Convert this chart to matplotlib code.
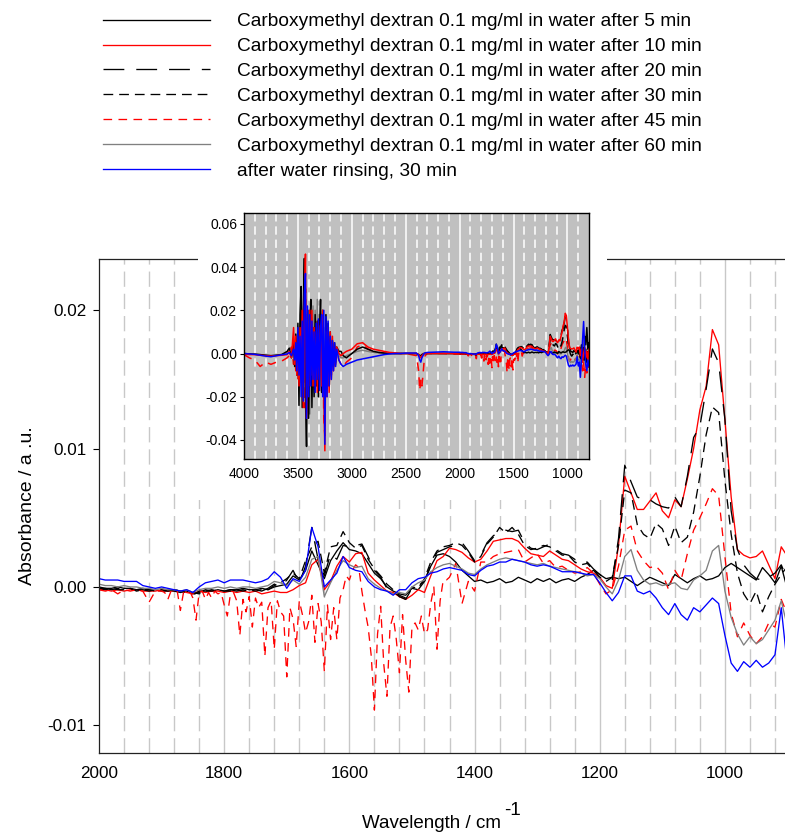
import numpy as np
import matplotlib
matplotlib.use("Agg")
import matplotlib.pyplot as plt
from matplotlib.patches import Rectangle
from matplotlib.ticker import FormatStrFormatter

plt.rcParams['font.family'] = ['Liberation Sans', 'DejaVu Sans']
plt.rcParams['axes.unicode_minus'] = False
plt.rcParams['lines.scale_dashes'] = False

labels = [
    "Carboxymethyl dextran 0.1 mg/ml in water after 5 min",
    "Carboxymethyl dextran 0.1 mg/ml in water after 10 min",
    "Carboxymethyl dextran 0.1 mg/ml in water after 20 min",
    "Carboxymethyl dextran 0.1 mg/ml in water after 30 min",
    "Carboxymethyl dextran 0.1 mg/ml in water after 45 min",
    "Carboxymethyl dextran 0.1 mg/ml in water after 60 min",
    "after water rinsing, 30 min",
]

# wavenumber sampling grid (cm-1), 2000 -> 800
WN = list(range(2000, 790, -10))
# finer grid for the 45 min trace
WN45 = list(range(2000, 1900, -10)) + list(range(1900, 1440, -5)) + list(range(1440, 790, -10))
# high-wavenumber grid for the inset (4000 -> 2050)
HI_WN = ([4000, 3950, 3900, 3850, 3800, 3750, 3700, 3650, 3600, 3580, 3560, 3540]
         + list(range(3530, 3130, -10))
         + [3120, 3100, 3080, 3050, 3000, 2950, 2900, 2850, 2800, 2750, 2700, 2650,
            2600, 2550, 2500, 2450, 2400, 2380, 2370, 2360, 2350, 2340, 2330, 2320,
            2300, 2250, 2200, 2150, 2100, 2050])

# absorbance values in units of 1e-3 (mAbs)
min5 = [0.0, -0.1, -0.1, 0.0, -0.1, -0.1, -0.2, -0.1, -0.2, -0.2,
        -0.3, -0.3, -0.2, -0.3, -0.3, -0.5, -0.4, -0.2, -0.3, -0.2,
        -0.3, -0.2, -0.2, -0.1, -0.2, -0.2, -0.1, -0.2, 0.0, 0.1,
        0.2, 0.8, 0.5, 1.2, 2.6, 1.6, 0.6, 1.9, 2.6, 3.2,
        2.7, 2.6, 2.4, 1.7, 1.0, 0.6, 0.0, -0.3, -0.5, -0.6,
        -0.1, -0.2, 0.4, 1.5, 2.3, 2.4, 2.2, 1.8, 1.2, 0.8,
        0.4, 0.5, 0.3, 0.4, 0.6, 0.3, 0.4, 0.7, 0.5, 0.3,
        0.6, 0.4, 0.6, 0.3, 0.5, 0.6, 0.4, 0.7, 0.9, 1.2,
        0.9, 0.6, 0.7, 0.6, 0.7, 0.4, 0.1, 0.4, 0.7, 0.5,
        0.3, 0.1, 0.9, 0.6, 0.3, 0.6, 0.8, 0.5, 0.6, 0.8,
        1.4, 1.7, 1.4, 1.1, 0.8, 0.5, 1.4, 0.9, 0.3, 1.5,
        -0.2, 2.0, -2.0, 4.0, 1.0, -3.0, 8.0, 4.0, 12.0, 2.0,
        5.0]
min10 = [-0.2, -0.2, -0.3, -0.2, -0.3, -0.2, -0.2, -0.3, -0.3, -0.3,
         -0.2, -0.3, -0.3, -0.3, -0.4, -0.5, -0.3, -0.4, -0.3, -0.3,
         -0.4, -0.3, -0.4, -0.3, -0.4, -0.3, -0.5, -0.4, -0.3, -0.4,
         -0.4, -0.2, 0.1, 0.3, 1.6, 2.0, -0.2, 0.4, 1.5, 2.2,
         1.8, 2.4, 2.5, 1.0, 0.5, 0.1, -0.3, -0.4, -0.7, -0.9,
         -0.6, -0.2, -0.4, 0.8, 1.9, 2.2, 2.8, 2.7, 2.5, 2.1,
         1.8, 2.0, 2.6, 3.3, 3.4, 3.5, 3.5, 3.3, 2.8, 2.4,
         2.3, 2.2, 2.6, 2.3, 2.0, 1.9, 1.6, 1.3, 1.1, 1.0,
         0.7, 0.1, -0.1, 3.0, 8.0, 6.8, 5.6, 5.6, 6.2, 6.8,
         5.5, 5.0, 6.3, 5.8, 7.8, 10.0, 12.8, 14.5, 18.6, 17.5,
         12.1, 6.5, 2.7, 2.3, 2.1, 2.2, 2.6, 1.6, 0.6, 2.9,
         2.2, 3.0, -1.0, 2.0, -4.0, 0.0, 3.0, -2.0, 1.0, -3.0,
         2.0]
min20 = [-0.1, -0.1, -0.2, -0.1, -0.2, -0.2, -0.2, -0.2, -0.3, -0.2,
         -0.3, -0.2, -0.3, -0.4, -0.3, -0.6, -0.3, -0.3, -0.2, -0.3,
         -0.3, -0.2, -0.3, -0.2, -0.3, -0.2, -0.3, -0.1, 0.2, 0.0,
         0.5, 1.2, 0.3, 1.5, 4.3, 2.0, 0.8, 2.4, 2.0, 3.0,
         2.9, 3.0, 3.1, 2.2, 1.2, 0.7, -0.1, -0.3, -0.7, -0.9,
         -0.1, 0.1, 0.4, 1.6, 2.5, 2.7, 2.9, 3.0, 3.2, 2.6,
         1.9, 2.3, 3.2, 3.7, 4.0, 4.1, 4.0, 4.1, 3.2, 2.8,
         2.7, 2.9, 3.1, 2.7, 2.4, 2.3, 2.0, 1.7, 1.8, 1.3,
         0.9, 0.6, 0.5, 3.5, 8.8, 7.6, 6.5, 6.3, 6.3, 6.0,
         5.8, 5.7, 6.5, 5.8, 8.0, 10.8, 11.6, 14.3, 17.2, 16.2,
         12.1, 5.5, 2.7, 1.6, 1.0, 0.6, 0.5, 0.7, 1.0, 1.6,
         0.5, 1.0, -2.0, 3.0, -1.0, 2.0, -3.0, 1.0, 4.0, -2.0,
         1.0]
min30 = [-0.1, -0.2, -0.1, -0.2, -0.2, -0.1, -0.3, -0.2, -0.2, -0.3,
         -0.2, -0.3, -0.2, -0.3, -0.4, -0.4, -0.5, -0.3, -0.3, -0.2,
         -0.3, -0.3, -0.2, -0.3, -0.2, -0.3, -0.2, -0.2, 0.1, 0.3,
         0.6, 1.0, 0.6, 1.9, 2.9, 3.3, 1.0, 2.9, 3.0, 4.0,
         3.2, 2.8, 3.0, 2.0, 1.3, 0.8, 0.2, -0.2, -0.6, -0.8,
         0.0, -0.1, 0.6, 1.8, 2.6, 2.9, 3.0, 3.2, 3.0, 2.5,
         1.8, 2.2, 3.1, 3.6, 4.3, 3.9, 4.3, 3.8, 3.0, 2.7,
         2.8, 3.0, 2.9, 2.6, 2.3, 2.3, 1.8, 1.6, 1.7, 1.2,
         0.7, 0.4, 0.7, 3.0, 7.0, 6.8, 4.5, 3.8, 3.5, 4.6,
         4.2, 3.0, 4.4, 3.2, 3.6, 5.4, 8.0, 11.0, 13.0, 12.6,
         7.7, 3.8, 1.0, -0.5, -1.2, -0.3, -1.8, -0.7, 0.2, 0.9,
         1.5, 0.5, -3.0, 1.0, -2.0, 3.0, -1.0, 2.0, -4.0, 1.0,
         -2.0]
min45 = [-0.2, -0.3, -0.2, -0.5, -0.2, -0.3, -0.2, -0.3, -1.1, -0.3,
         # 1900 -> 1445, step 5
         -0.3, -0.4, -0.9, -0.3, -0.4, -0.3, -1.7, -0.4, -0.5, -0.3,
         -0.8, -2.4, -0.4, -0.3, -0.9, -0.4, -0.8, -0.3, -0.5, -0.4,
         -1.3, -2.1, -0.5, -0.4, -1.0, -3.5, -0.9, -1.8, -0.7, -2.9,
         -0.8, -1.5, -1.1, -5.0, -1.5, -1.0, -4.5, -1.0, -1.8, -2.1,
         -6.5, -1.5, -2.3, -4.3, -1.0, -2.0, -3.3, -2.5, -0.6, -4.0,
         -1.2, -2.5, -6.1, -1.3, -3.8, -1.5, -3.8, -0.8, -0.2, 0.8,
         0.5, 1.2, 1.6, 1.4, -0.3, -1.7, -2.9, -5.0, -8.9, -3.4,
         -1.4, -5.6, -7.9, -2.9, -2.1, -3.8, -6.2, -2.0, -5.3, -7.6,
         -2.9, -2.6, -3.1, -2.1, -3.4, -3.1, -1.2, 0.0, -4.5, -1.0,
         0.5, 0.5,
         # 1440 -> 800, step 10
         0.7, 1.7, -1.2, 0.4, -0.3, 1.8, 1.8, 2.2, 2.4, 2.5,
         2.6, 2.7, 1.8, 2.1, 2.4, 1.7, 1.9, 1.4, 1.5, 1.2,
         1.0, 1.1, 1.4, 1.0, 0.2, -0.5, -0.2, 1.5, 4.1, 4.4,
         2.6, 1.9, 1.4, 1.5, 1.0, -0.2, 1.2, 0.5, 2.4, 4.1,
         5.0, 6.0, 7.1, 6.6, 2.2, -1.9, -3.6, -2.6, -3.5, -4.1,
         -3.6, -2.6, -2.9, -0.9, -2.0, -2.0, -6.0, -3.0, -8.0, -4.0,
         -11.0, -5.0, -9.0, -4.0, -7.0]
min60 = [0.2, 0.1, 0.1, 0.0, 0.1, 0.0, 0.0, -0.1, -0.1, -0.2,
         -0.1, -0.2, -0.2, -0.3, -0.2, -0.4, -0.2, -0.1, -0.1, 0.0,
         -0.1, 0.0, -0.1, 0.0, 0.0, -0.1, 0.0, 0.1, 0.4, 0.3,
         0.1, 0.5, 0.2, 0.7, 2.0, 2.2, -0.7, 0.3, 1.2, 1.9,
         1.6, 1.4, 1.5, 0.6, 0.2, -0.1, -0.3, -0.5, -0.4, -0.5,
         0.0, 0.3, 0.5, 1.1, 1.4, 1.6, 1.7, 1.5, 1.3, 1.0,
         0.9, 1.3, 1.6, 1.8, 2.0, 2.1, 2.0, 1.9, 1.8, 1.7,
         1.6, 1.7, 1.5, 1.4, 1.3, 1.2, 1.1, 1.0, 0.8, 0.9,
         0.6, 0.0, -0.5, 0.5, 2.2, 2.7, 1.2, 0.5, 0.2, 0.3,
         0.1, 0.2, 0.3, -0.1, -0.2, 0.5, 0.8, 1.2, 2.6, 3.0,
         -0.3, -2.2, -3.4, -4.2, -3.6, -4.1, -3.8, -3.1, -2.4, -1.0,
         -2.9, -3.0, -5.0, -2.0, -4.0, 1.0, -3.0, -6.0, -2.0, -4.0,
         -1.0]
rinse = [0.6, 0.5, 0.5, 0.5, 0.4, 0.4, 0.4, 0.1, 0.0, -0.1,
         0.0, -0.1, -0.2, -0.3, -0.2, -0.4, 0.0, 0.3, 0.4, 0.5,
         0.3, 0.5, 0.5, 0.5, 0.4, 0.3, 0.4, 0.6, 1.1, 0.7,
         -0.1, 0.6, 0.4, 1.2, 4.3, 2.9, 0.0, 0.5, 1.0, 2.2,
         1.4, 1.2, 1.1, 0.4, 0.0, -0.2, -0.3, -0.6, -0.2, -0.2,
         0.3, 0.6, 0.7, 1.0, 1.1, 1.3, 1.4, 1.3, 1.2, 0.9,
         0.8, 1.2, 1.5, 1.6, 1.8, 1.8, 2.0, 1.9, 1.8, 1.6,
         1.5, 1.6, 1.5, 1.3, 1.1, 1.1, 1.1, 1.0, 0.9, 0.9,
         0.3, -0.4, -1.0, -0.4, 0.8, 0.8, -0.3, -0.5, -0.3, -0.8,
         -1.5, -2.0, -1.2, -2.0, -2.4, -1.5, -1.8, -1.3, -0.8, -1.2,
         -3.5, -5.5, -6.1, -5.4, -5.8, -5.3, -5.8, -5.5, -4.9, -1.5,
         -5.8, -4.0, -11.0, -3.0, 6.0, 14.8, 2.0, -5.0, -8.0, -3.0,
         -6.0]

# high-wavenumber parts (inset only), mAbs
min5_hi = [0.0, -0.2, -0.3, -0.5, -0.8, -1.0, -0.8, -0.5, 1.0, 2.5, -2.0, 5.0,
           -6, 9, -10, 14, -24, 18, 31, -25, 20, 44,
           -20, -43, 20, -30, 15, 25, -25, 12, -20, 18,
           -15, 15, -20, 10, 25, -18, 20, -15, -23, 18,
           -12, 14, -15, 10, -8, 6, -6, 5, -4, 3,
           1, 1, -1, -2, 0, 2, 3, 2, 1, 0.5, 0.2, 0, 0, 0, 0, 0, 0,
           -0.5, -1, -1, -0.5, -0.3, 0, 0, 0, 0, 0, 0, 0, 0]
min10_hi = [-0.3, -0.5, -0.5, -0.8, -1.0, -1.2, -1.0, -0.8, -0.5, 1.0, -2.0, 12.0,
            -5, 8, -10, 6, -15, 12, -12, 20, -25, 20,
            46, -30, 15, -15, 20, -10, 20, -15, 12, -15,
            10, -18, 15, -12, 13, -15, 20, -20, -45, 10,
            -20, 12, -18, 10, -12, 8, -8, 4, -5, 3,
            0, -1, 0, 1, 2, 4.5, 5, 3, 2, 1.5, 1, 0.5, 0.3, 0, 0, 0, 0,
            -0.5, -1.5, -2, -1, -0.5, 0, 0, 0, 0, 0, 0, 0, -0.1]
min45_hi = [-0.5, -2, -3, -6, -4, -5, -4, -3.5, -2, -1, 3, -5,
            4, -8, 6, -12, 10, -15, 8, -18, 15, -25,
            30, -28, 12, -12, 15, -15, 18, -10, 10, -12,
            12, -15, 10, -18, 15, -10, 18, -30, -38, 8,
            -18, 10, -15, 8, -10, 6, -6, 3, -4, 2,
            -3, -5, -6, -4, -2, 3, 4, 2, 1, 0.5, 0.2, 0, 0, 0, 0, -0.5, -1,
            -8, -17, -12, -15, -10, -4, -1, 0, 0, 0, 0, -0.2, -0.3]
min60_hi = [0, -0.2, -0.3, -0.6, -0.8, -1.0, -0.8, -0.4, 0.5, 1.5, -1.5, 3,
            -5, 6, -8, 10, -12, 14, -15, 12, -18, 20,
            -20, 18, -22, 20, -28, 16, -20, 22, -18, 20,
            -15, 25, -16, 18, -15, 14, -18, 12, -15, 10,
            -12, 8, -10, 6, -7, 5, -5, 3, -3, 2,
            -1, -2, -2, -1, 0, 1, 1.5, 1, 0.5, 0.3, 0, 0, 0, 0, 0, 0, 0,
            -0.5, -1, -1, -0.5, 0, 0, 0, 0, 0, 0, 0, 0, 0]
rinse_hi = [0.0, -0.2, -0.4, -0.8, -1.2, -1.5, -1.0, -0.6, -0.2, 0.5, -1.0, 2.0,
            -3, 5, -8, 12, -10, 8, -20, 15, -22, 28,
            37, -30, 22, -20, 18, -15, 15, -12, 10, -18,
            14, -12, 16, -17, 12, 18, -20, 20, -42, 17,
            -20, 15, -15, 8, -12, 6, -8, 5, -6, 2,
            -3, -5, -6, -5, -4, -3, -2.5, -2, -1.5, -1, -0.5, -0.2, 0, 0, 0.2, 0.2, 0.2,
            -1, -3, -4, -2, -1, 0, 0.3, 0.5, 0.6, 0.7, 0.8, 0.7, 0.6]

def a(v):
    return np.asarray(v, dtype=float) / 1000.0

series = [
    (WN, min5, min5_hi, dict(color='black', ls='-')),
    (WN, min10, min10_hi, dict(color='#ff0000', ls='-')),
    (WN, min20, None, dict(color='black', dashes=(15.0, 8.6))),
    (WN, min30, None, dict(color='black', dashes=(7.0, 4.3))),
    (WN45, min45, min45_hi, dict(color='#ff0000', dashes=(6.2, 4.6))),
    (WN, min60, min60_hi, dict(color='#808080', ls='-')),
    (WN, rinse, rinse_hi, dict(color='#0000ff', ls='-')),
]

W, H = 785, 832
fig = plt.figure(figsize=(W / 100, H / 100), dpi=100)

# main axes
ax = fig.add_axes([99 / W, 1 - 753 / H, 686 / W, 494 / H])
ax.set_zorder(0)
for g in range(1960, 900, -40):
    if g % 200 == 0:
        ax.axvline(g, color='#c8c8c8', lw=1.0, zorder=0.5)
    else:
        ax.axvline(g, color='#c8c8c8', lw=1.0, dashes=(11, 5), zorder=0.5)

handles = []
for xs, ys, _, st in series:
    ln, = ax.plot(xs, a(ys), lw=0.95, zorder=2, **st)
    handles.append(ln)

ax.set_xlim(2000, 904)
ax.set_ylim(-0.012, 0.0237)
ax.set_xticks([2000, 1800, 1600, 1400, 1200, 1000])
ax.set_yticks([-0.01, 0.0, 0.01, 0.02])
ax.yaxis.set_major_formatter(FormatStrFormatter('%.2f'))
ax.tick_params(axis='x', length=0, pad=9, labelsize=12.3)
ax.tick_params(axis='y', direction='out', length=4, width=0.8, pad=5, labelsize=12.3)
ax.spines['right'].set_visible(False)
for s in ('left', 'bottom', 'top'):
    ax.spines[s].set_linewidth(0.9)
    ax.spines[s].set_color('#222222')
ax.set_ylabel('Absorbance / a .u.', fontsize=14)
ax.yaxis.set_label_coords(-0.092, 0.5)

# x-axis title with full-size raised exponent
xt = fig.text(362 / W, 1 - 828 / H, 'Wavelength / cm', fontsize=13.5,
              ha='left', va='baseline')
fig.canvas.draw()
bb = xt.get_window_extent()
fig.text((bb.x1 + 3) / W, 1 - 815 / H, '-1', fontsize=13.5, ha='left', va='baseline')

# white area around the inset
fig.add_artist(Rectangle((198 / W, 1 - 500 / H), (607 - 198) / W, (500 - 205) / H,
                         transform=fig.transFigure, facecolor='white',
                         edgecolor='none', zorder=1))

# inset axes
ins = fig.add_axes([244 / W, 1 - 459 / H, 345 / W, 246 / H])
ins.set_zorder(3)
ins.set_facecolor('#c0c0c0')
for g in range(3900, 800, -100):
    if g % 500 == 0:
        ins.axvline(g, color='white', lw=1.1, zorder=0.5)
    else:
        ins.axvline(g, color='white', lw=1.1, dashes=(6, 3.5), zorder=0.5)

order = [4, 5, 2, 3, 0, 1, 6]
for i in order:
    xs, ys, hi, st = series[i]
    if hi is not None:
        ins.plot(HI_WN + list(xs), a(list(hi) + list(ys)), lw=1.1, zorder=2, **st)
    else:
        ins.plot(xs, a(ys), lw=1.1, zorder=2, **st)
ins.set_xlim(4000, 800)
ins.set_ylim(-0.0488, 0.065)
ins.set_xticks([4000, 3500, 3000, 2500, 2000, 1500, 1000])
ins.set_yticks([-0.04, -0.02, 0.0, 0.02, 0.04, 0.06])
ins.yaxis.set_major_formatter(FormatStrFormatter('%.2f'))
ins.tick_params(axis='x', length=0, pad=6, labelsize=10)
ins.tick_params(axis='y', direction='out', length=3, width=0.8, pad=2, labelsize=10)
for s in ins.spines.values():
    s.set_linewidth(1.0)
    s.set_color('black')

# legend
fs = 13.8
em = fs * 100 / 72
fig.legend(handles, labels, loc='upper left',
           bbox_to_anchor=(103 / W, 1 - 13 / H), frameon=False,
           borderpad=0, borderaxespad=0, handlelength=107 / em,
           handletextpad=27 / em, labelspacing=0.39, fontsize=fs)

fig.savefig('out.png', dpi=100)
